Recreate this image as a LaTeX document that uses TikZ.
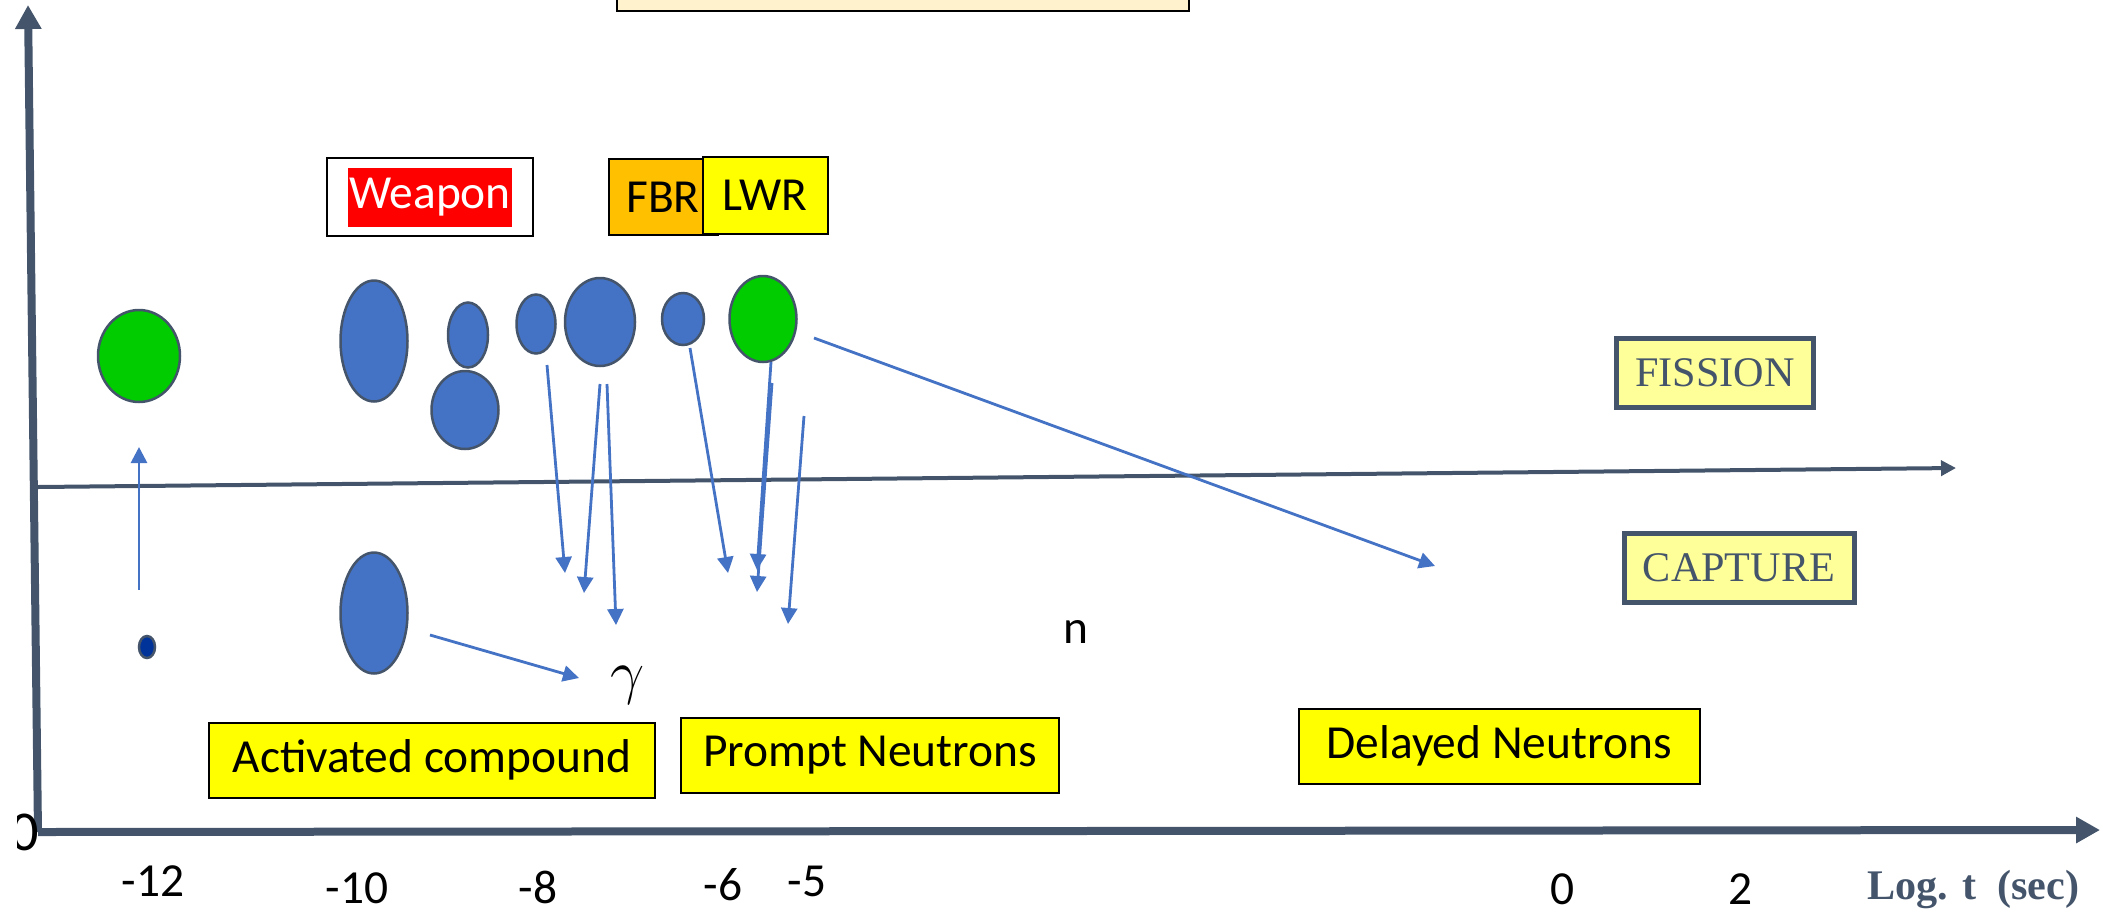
\documentclass[tikz,border=0pt]{standalone}
\usepackage{fontspec}
\setmainfont{Carlito}
\newfontfamily\serifed{Liberation Serif}
\usetikzlibrary{arrows.meta,positioning,fit,shapes.geometric}
\definecolor{axgray}{HTML}{44546A}
\definecolor{nblue}{HTML}{4472C4}
\definecolor{ngreen}{HTML}{00CC00}
\definecolor{ndark}{HTML}{003399}
\definecolor{nyellow}{HTML}{FFFF00}
\definecolor{npale}{HTML}{FFFF99}
\definecolor{norange}{HTML}{FFC000}
\definecolor{npeach}{HTML}{FFF2CC}

\begin{document}
\begin{tikzpicture}[x=0.1mm,y=-0.1mm,
  blob/.style={ellipse,draw=axgray,line width=0.25mm,fill=nblue,inner sep=0pt},
  grn/.style={blob,fill=ngreen},
  lbl/.style={font=\fontsize{13.5}{16}\selectfont,inner sep=0pt},
  ybox/.style={lbl,draw=black,line width=0.2mm,fill=nyellow,minimum height=7.5mm},
  tag/.style={draw=axgray,line width=0.5mm,fill=npale,text=axgray,minimum height=6.9mm,font=\serifed\fontsize{12}{14}\selectfont,inner sep=0pt},
  ray/.style={draw=nblue,line width=0.28mm,-{Triangle[length=1.6mm,width=1.6mm]}},
  axis/.style={draw=axgray,line width=0.8mm,-{Triangle[length=2.4mm,width=2.5mm]}}]
  \useasboundingbox (0,0) rectangle (2103,914);

  % axes
  \coordinate (o) at (38,832);
  \coordinate (ytop) at (28,5);
  \coordinate (xend) at (2100,830);
  \coordinate (mleft) at (38,487);
  \coordinate (mend) at (1956,468);
  \draw[axis] (o) -- (ytop);
  \draw[axis] (o) -- (xend);
  \draw[axis,line width=0.4mm,-{Triangle[length=1.5mm,width=1.5mm]}] (mleft) -- (mend);
  \begin{scope}
    \clip (17,790) rectangle (60,870);
    \node[lbl,font=\fontsize{16}{18}\selectfont] (zero) at (25,832) {0};
  \end{scope}

  \node[draw=black,line width=0.2mm,fill=npeach,minimum width=57.2mm,minimum height=6mm,inner sep=0pt] (banner) at (903,-19) {};

  % reactor tags
  \node[lbl,fill=red,text=white,minimum width=16.4mm,minimum height=5.9mm] (weapon) at (430,197) {Weapon};
  \node[draw=black,line width=0.2mm,fit=(weapon),inner xsep=2mm,inner ysep=0.9mm] (weaponframe) {};
  \node[lbl,draw=black,line width=0.2mm,fill=norange,minimum width=10.9mm,minimum height=7.6mm] (fbr) at (663,197) {FBR};
  \node[lbl,draw=black,line width=0.2mm,fill=nyellow,minimum width=12.5mm,minimum height=7.7mm] (lwr) at (765,195) {LWR};

  % nuclei
  \node[grn,minimum width=8.2mm,minimum height=9.2mm] (g1) at (139,356) {};
  \node[blob,minimum width=6.7mm,minimum height=12.1mm] (b1) at (374,341) {};
  \node[blob,minimum width=4.0mm,minimum height=6.5mm] (b2) at (468,335) {};
  \node[blob,minimum width=6.7mm,minimum height=7.8mm] (b3) at (465,410) {};
  \node[blob,minimum width=3.9mm,minimum height=5.9mm] (b4) at (536,324) {};
  \node[blob,minimum width=7.0mm,minimum height=8.8mm] (b5) at (600,322) {};
  \node[blob,minimum width=4.2mm,minimum height=5.2mm] (b6) at (683,319) {};
  \node[grn,minimum width=6.7mm,minimum height=8.6mm] (g2) at (763,319) {};
  \node[blob,fill=ndark,minimum width=1.6mm,minimum height=2.2mm] (dot) at (147,647) {};
  \node[blob,minimum width=6.7mm,minimum height=12.1mm] (b7) at (374,613) {};

  % rays
  \coordinate (up0) at (139,590);   \coordinate (up1) at (139,447);
  \coordinate (r1a) at (547,365);   \coordinate (r1b) at (565,573);
  \coordinate (r2a) at (600,384);   \coordinate (r2b) at (584,593);
  \coordinate (r3a) at (607,384);   \coordinate (r3b) at (616,625);
  \coordinate (r4a) at (690,348);   \coordinate (r4b) at (728,573);
  \coordinate (r5a) at (771,362);   \coordinate (r5b) at (757,570);
  \coordinate (r6a) at (772,383);   \coordinate (r6b) at (757,592);
  \coordinate (r7a) at (804,416);   \coordinate (r7b) at (788,624);
  \coordinate (dla) at (814,338);   \coordinate (dlb) at (1435,566);
  \coordinate (gma) at (430,635);   \coordinate (gmb) at (579,678);
  \draw[ray] (up0) -- (up1);
  \draw[ray] (r1a) -- (r1b); \draw[ray] (r2a) -- (r2b);
  \draw[ray] (r3a) -- (r3b); \draw[ray] (r4a) -- (r4b);
  \draw[ray] (r5a) -- (r5b); \draw[ray] (r6a) -- (r6b);
  \draw[ray] (r7a) -- (r7b);
  \draw[ray] (dla) -- (dlb);
  \draw[ray] (gma) -- (gmb);

  \node[inner sep=0pt,font=\fontsize{16}{18}\selectfont] (gam) at (628,685) {$\gamma$};
  \node[lbl] (nn) at (1076,632) {n};

  % labels
  \node[tag,minimum width=19.7mm] (fission) at (1715,373) {FISSION};
  \node[tag,minimum width=23.0mm] (capture) at (1739,568) {CAPTURE};
  \node[ybox,minimum width=44.6mm] (act) at (432,760) {Activated compound};
  \node[ybox,minimum width=37.8mm] (prompt) at (870,755) {Prompt Neutrons};
  \node[ybox,minimum width=40.1mm] (delayed) at (1499,746) {Delayed Neutrons};

  % time ticks
  \foreach \t/\x/\y in {-12/153/881,-10/357/888,-8/538/887,-6/723/885,-5/807/881,0/1562/889,2/1740/889}
    \node[lbl] (tick\x) at (\x,\y) {\t};
  \node[font=\serifed\bfseries\fontsize{12}{14}\selectfont,text=axgray,inner sep=0pt,anchor=east] (unit) at (2080,890) {Log. t\ \ (sec)};
\end{tikzpicture}
\end{document}
